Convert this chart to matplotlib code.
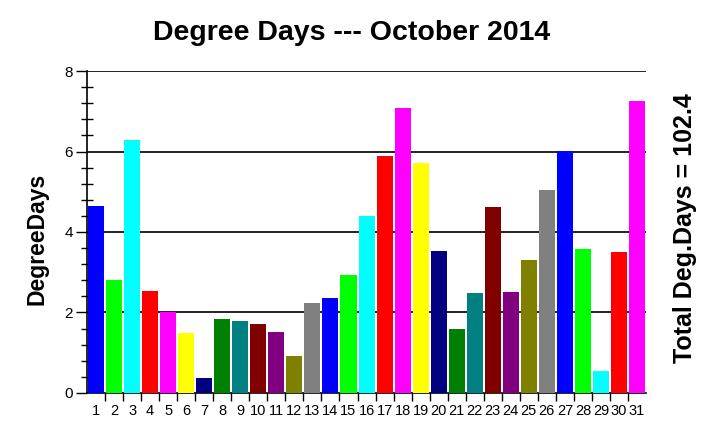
import numpy as np
import matplotlib.pyplot as plt
from matplotlib.ticker import MultipleLocator

plt.rcParams['font.family'] = ['Liberation Sans', 'DejaVu Sans']

days = list(range(1, 32))
degree_days = [4.65, 2.81, 6.29, 2.54, 2.01, 1.49, 0.36, 1.84, 1.79, 1.72,
               1.52, 0.93, 2.24, 2.37, 2.94, 4.40, 5.89, 7.08, 5.72, 3.53,
               1.60, 2.49, 4.62, 2.51, 3.31, 5.05, 6.01, 3.58, 0.55, 3.51,
               7.25]
total_label = "Total Deg.Days = 102.4"
palette = ['#0000ff', '#00ff00', '#00ffff', '#ff0000', '#ff00ff', '#ffff00',
           '#000080', '#008000', '#008080', '#800000', '#800080', '#808000',
           '#808080']

colors = [palette[i % len(palette)] for i in range(len(days))]

fig = plt.figure(figsize=(7.24, 4.43), dpi=100)
ax = fig.add_axes([0.1202, 0.1129, 0.7721, 0.7268])

ax.bar(days, degree_days, width=0.89, color=colors, zorder=3)

ax.set_xlim(0.5, 31.5)
ax.set_ylim(0, 8)

# grid lines at the major y ticks only
for y in [2, 4, 6, 8]:
    ax.axhline(y, color='black', lw=1.2, zorder=1)

ax.spines['top'].set_visible(False)
ax.spines['right'].set_visible(False)
ax.spines['left'].set_linewidth(1.2)
ax.spines['bottom'].set_linewidth(1.2)

ax.yaxis.set_major_locator(MultipleLocator(2))
ax.yaxis.set_minor_locator(MultipleLocator(0.4))
ax.tick_params(axis='y', which='major', length=8, width=1, labelsize=11, pad=2)
ax.tick_params(axis='y', which='minor', length=8, width=1, direction='inout')

ax.set_xticks(days)
ax.set_xticks([d + 0.5 for d in days[:-1]], minor=True)
ax.tick_params(axis='x', which='major', length=0, labelsize=10.5, pad=8)
ax.tick_params(axis='x', which='minor', length=6, width=1, direction='out')

fig.text(0.051, 0.46, "DegreeDays", rotation=90, ha='center', va='center',
         fontsize=16.5, fontweight='bold')
fig.text(0.485, 0.925, "Degree Days --- October 2014", ha='center', va='center',
         fontsize=20.5, fontweight='bold')
fig.text(0.946, 0.485, total_label, rotation=90, ha='center', va='center',
         fontsize=18, fontweight='bold')

fig.savefig('out.png', dpi=100)
